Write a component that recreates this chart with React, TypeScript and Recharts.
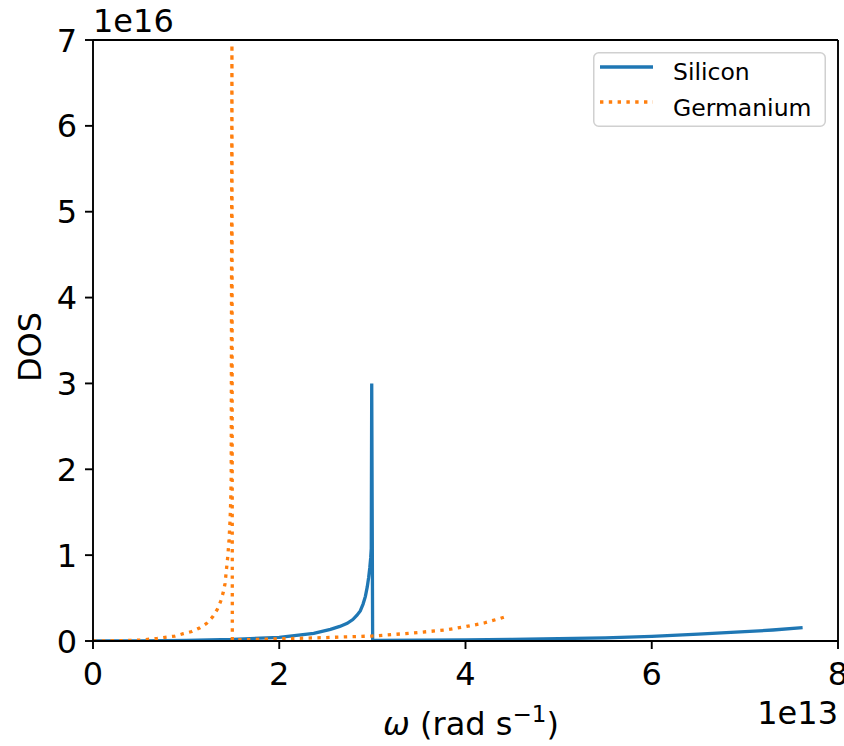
import React from 'react';
import { LineChart, Line, XAxis, YAxis, Legend, ReferenceLine } from 'recharts';

// Angular frequency in units of 1e13 rad/s, density of states in units of 1e16
const siliconOmega = [
  0, 0.5, 1.0, 1.5, 2.0, 2.37, 2.55, 2.65, 2.73, 2.79, 2.835, 2.87, 2.9, 2.925, 2.945,
  2.96, 2.972, 2.982, 2.988, 2.993, 3.003,
  3.5, 4.0, 4.5, 5.0, 5.5, 6.0, 6.5, 7.0, 7.3, 7.62,
];
const siliconDos = [
  0, 0.002, 0.006, 0.018, 0.043, 0.09, 0.136, 0.17, 0.206, 0.25, 0.3, 0.35, 0.43, 0.52, 0.63,
  0.74, 0.85, 0.97, 1.08, 3.0, 0.008,
  0.01, 0.013, 0.018, 0.027, 0.037, 0.055, 0.08, 0.108, 0.128, 0.155,
];
const germaniumOmega = [
  0, 0.3, 0.5, 0.69, 0.773, 0.881, 0.97, 1.06, 1.149, 1.221, 1.286, 1.335, 1.372, 1.4,
  1.418, 1.436, 1.447, 1.461, 1.472, 1.479, 1.484, 1.492, 1.496, 2.0, 2.5, 3.0, 3.4, 3.8,
  4.0, 4.2, 4.35, 4.45,
];
const germaniumDos = [
  0, 0.004, 0.01, 0.03, 0.043, 0.058, 0.085, 0.11, 0.155, 0.206, 0.283, 0.369, 0.465, 0.573,
  0.67, 0.865, 0.98, 1.18, 1.41, 1.64, 1.9, 6.95, 0.012, 0.025, 0.04, 0.058, 0.09, 0.13,
  0.167, 0.21, 0.256, 0.29,
];

const xTicks = [0, 2, 4, 6, 8];
const yTicks = [0, 1, 2, 3, 4, 5, 6, 7];
const xOffsetLabel = '1e13';
const yOffsetLabel = '1e16';

const seriesNames = ['Silicon', 'Germanium'];
const seriesColors = ['#1f77b4', '#ff7f0e'];
const seriesDashes = [undefined, '3.4 5.4'];

const toPoints = (xs: number[], ys: number[]) => xs.map((x, i) => ({ x, y: ys[i] }));
const siliconData = toPoints(siliconOmega, siliconDos);
const germaniumData = toPoints(germaniumOmega, germaniumDos);

const FONT = '"DejaVu Sans", sans-serif';
const LW = 3.3;
const SPINE = { stroke: '#000', strokeWidth: 1.9 };

const XTick = (props: any) => {
  const { x, y, payload } = props;
  return (
    <text x={x} y={y + 36} textAnchor="middle" fontFamily={FONT} fontSize={32} fill="#000">
      {payload.value}
    </text>
  );
};

const YTick = (props: any) => {
  const { x, y, payload } = props;
  return (
    <text x={x} y={y + 11.5} textAnchor="end" fontFamily={FONT} fontSize={32} fill="#000">
      {payload.value}
    </text>
  );
};

const LegendBox = () => (
  <svg width={234} height={76} style={{ display: 'block' }}>
    <rect x={0.75} y={0.75} width={231.5} height={73.5} rx={5} ry={5}
      fill="#fff" fillOpacity={0.8} stroke="#d0d0d0" strokeWidth={1.5} />
    {seriesNames.map((name, i) => (
      <g key={name}>
        <line x1={7} x2={60} y1={15 + i * 35} y2={15 + i * 35}
          stroke={seriesColors[i]} strokeWidth={LW} strokeDasharray={seriesDashes[i]} />
        <text x={80} y={28 + i * 35.5} fontFamily={FONT} fontSize={23.5} fill="#000">
          {name}
        </text>
      </g>
    ))}
  </svg>
);

export default function App() {
  return (
    <div style={{ position: 'absolute', left: 0, top: 0 }}>
      <LineChart width={844} height={746} margin={{ top: 40, right: 6, bottom: 0, left: 0 }}>
        <XAxis
          type="number"
          dataKey="x"
          domain={[0, 8]}
          ticks={xTicks}
          allowDataOverflow
          height={105}
          tickSize={8}
          tickMargin={0}
          tick={<XTick />}
          axisLine={SPINE}
          tickLine={SPINE}
        />
        <YAxis
          type="number"
          domain={[0, 7]}
          ticks={yTicks}
          allowDataOverflow
          width={93}
          tickSize={8}
          tickMargin={8}
          tick={<YTick />}
          axisLine={SPINE}
          tickLine={SPINE}
        />
        <Line
          data={siliconData}
          dataKey="y"
          name={seriesNames[0]}
          type="linear"
          stroke={seriesColors[0]}
          strokeWidth={LW}
          dot={false}
          activeDot={false}
          isAnimationActive={false}
        />
        <Line
          data={germaniumData}
          dataKey="y"
          name={seriesNames[1]}
          type="linear"
          stroke={seriesColors[1]}
          strokeWidth={LW}
          strokeDasharray={seriesDashes[1]}
          dot={false}
          activeDot={false}
          isAnimationActive={false}
        />
        {/* top and right spines */}
        <ReferenceLine y={7} {...SPINE} />
        <ReferenceLine x={8} {...SPINE} />
        <Legend
          layout="vertical"
          align="center"
          verticalAlign="middle"
          content={<LegendBox />}
          wrapperStyle={{ position: 'absolute', left: 593, top: 52, width: 234, height: 76 }}
        />
        <text x={93} y={32} fontFamily={FONT} fontSize={32} fill="#000">{yOffsetLabel}</text>
        <text x={838} y={724} textAnchor="end" fontFamily={FONT} fontSize={32} fill="#000">
          {xOffsetLabel}
        </text>
        <text x={471} y={735} textAnchor="middle" fontFamily={FONT} fontSize={32} fill="#000">
          <tspan fontStyle="italic">ω</tspan>
          <tspan> (rad s</tspan>
          <tspan dy={-13} fontSize={23}>−1</tspan>
          <tspan dy={13}>)</tspan>
        </text>
        <text x={41} y={347} textAnchor="middle" transform="rotate(-90, 41, 347)"
          fontFamily={FONT} fontSize={32} fill="#000">
          DOS
        </text>
      </LineChart>
    </div>
  );
}
